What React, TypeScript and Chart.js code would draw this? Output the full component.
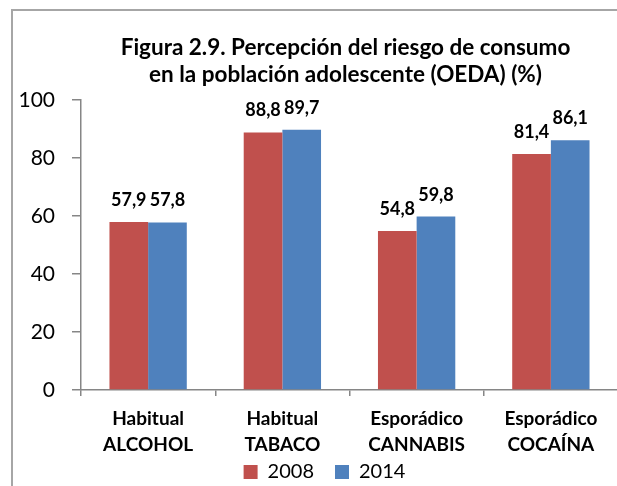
import React, { useEffect, useRef } from "react";
import { Chart, registerables } from "chart.js";

Chart.register(...registerables);

const categories: string[][] = [
  ["Habitual", "ALCOHOL"],
  ["Habitual", "TABACO"],
  ["Esporádico", "CANNABIS"],
  ["Esporádico", "COCAÍNA"],
];
const seriesNames = ["2008", "2014"];
const values2008 = [57.9, 88.8, 54.8, 81.4];
const values2014 = [57.8, 89.7, 59.8, 86.1];
const yMin = 0;
const yMax = 100;
const yStep = 20;
const titleLines = [
  "Figura 2.9. Percepción del riesgo de consumo",
  "en la población adolescente (OEDA) (%)",
];

const RED = "#C0504D";
const BLUE = "#4F81BD";
const AXIS = "#868686";
const FONT = "Lato";

const titlePlugin = {
  id: "twoLineTitle",
  afterDraw(chart: any) {
    const { ctx, chartArea } = chart;
    ctx.save();
    ctx.font = `bold 22.5px ${FONT}`;
    ctx.fillStyle = "#000";
    ctx.textAlign = "center";
    ctx.textBaseline = "middle";
    const cx = (chartArea.left + chartArea.right) / 2 - 4;
    ctx.fillText(titleLines[0], cx, chartArea.top - 52);
    ctx.fillText(titleLines[1], cx, chartArea.top - 25);
    ctx.restore();
  },
};

const valueLabelPlugin = {
  id: "valueLabels",
  afterDatasetsDraw(chart: any) {
    const { ctx } = chart;
    ctx.save();
    ctx.font = `bold 18px ${FONT}`;
    ctx.fillStyle = "#000";
    ctx.textAlign = "center";
    ctx.textBaseline = "alphabetic";
    chart.data.datasets.forEach((ds: any, di: number) => {
      const meta = chart.getDatasetMeta(di);
      meta.data.forEach((el: any, i: number) => {
        const v = ds.data[i] as number;
        const txt = v.toFixed(1).replace(".", ",");
        ctx.fillText(txt, el.x, el.y - 16);
      });
    });
    ctx.restore();
  },
};

const legendShiftPlugin = {
  id: "legendShift",
  afterLayout(chart: any) {
    const l = chart.legend;
    if (l) {
      l.left += 9;
      l.right += 9;
      l.top -= 19;
      l.bottom -= 19;
    }
  },
};

export default function App() {
  const ref = useRef<HTMLCanvasElement | null>(null);

  useEffect(() => {
    if (!ref.current) return;
    const chart = new Chart(ref.current, {
      type: "bar",
      data: {
        labels: categories,
        datasets: [
          {
            label: seriesNames[0],
            data: values2008,
            backgroundColor: RED,
            borderWidth: 0,
            categoryPercentage: 0.576,
            barPercentage: 1,
          },
          {
            label: seriesNames[1],
            data: values2014,
            backgroundColor: BLUE,
            borderWidth: 0,
            categoryPercentage: 0.576,
            barPercentage: 1,
          },
        ],
      },
      options: {
        responsive: false,
        animation: false,
        layout: { padding: { top: 89, right: 35, bottom: 5, left: 0 } },
        plugins: {
          title: { display: false },
          tooltip: { enabled: false },
          legend: {
            display: true,
            position: "bottom",
            labels: {
              boxWidth: 14,
              boxHeight: 14,
              padding: 21,
              color: "#000",
              font: { family: FONT, size: 20 },
            },
          },
        },
        scales: {
          x: {
            grid: {
              drawOnChartArea: false,
              drawTicks: true,
              tickLength: 6,
              color: AXIS,
              lineWidth: 1.5,
              offset: true,
            },
            border: { display: true, color: AXIS, width: 1.5 },
            ticks: {
              color: "#000",
              padding: 10,
              maxRotation: 0,
              autoSkip: false,
              font: { family: FONT, size: 19, weight: "bold", lineHeight: 1.37 },
            },
            afterFit(scale: any) {
              scale.height = 70;
            },
          },
          y: {
            min: yMin,
            max: yMax,
            grid: {
              drawOnChartArea: false,
              drawTicks: true,
              tickLength: 9,
              color: AXIS,
              lineWidth: 1.5,
            },
            border: { display: true, color: AXIS, width: 1.5 },
            ticks: {
              stepSize: yStep,
              color: "#000",
              padding: 17,
              font: { family: FONT, size: 21 },
            },
            afterFit(scale: any) {
              scale.width = 68;
            },
          },
        },
      },
      plugins: [titlePlugin, valueLabelPlugin, legendShiftPlugin],
    } as any);
    return () => chart.destroy();
  }, []);

  return (
    <div
      style={{
        position: "fixed",
        left: 0,
        top: 0,
        width: 617,
        height: 486,
        overflow: "hidden",
        background: "#fff",
      }}
    >
      <div
        style={{
          position: "absolute",
          left: 11,
          top: 9,
          width: 700,
          height: 600,
          border: "2px solid #a6a6a6",
          boxSizing: "border-box",
        }}
      />
      <canvas
        ref={ref}
        width={640}
        height={505}
        style={{ position: "absolute", left: 13, top: 11, display: "block" }}
      />
    </div>
  );
}
